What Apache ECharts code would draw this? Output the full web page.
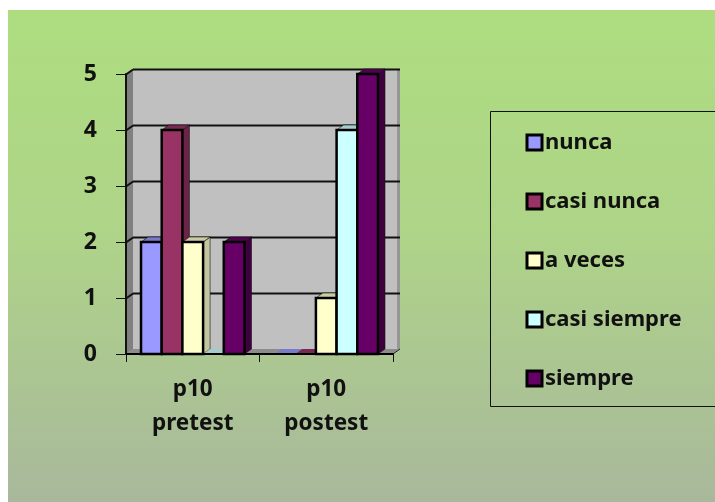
<!DOCTYPE html>
<html><head><meta charset="utf-8">
<style>html,body{margin:0;padding:0;background:#fff}#c{width:715px;height:502px}</style>
<script src="https://cdn.jsdelivr.net/npm/echarts@6/dist/echarts.min.js"></script>
</head><body><div id="c"></div>
<script>
const categories = ['p10\npretest', 'p10\npostest'];
const yTicks = [0, 1, 2, 3, 4, 5];
const seriesNames = ['nunca', 'casi nunca', 'a veces', 'casi siempre', 'siempre'];
const nunca = [2, 0];
const casiNunca = [4, 0];
const aVeces = [2, 1];
const casiSiempre = [0, 4];
const siempre = [2, 5];
const allValues = [nunca, casiNunca, aVeces, casiSiempre, siempre];
const frontColors = ['#9999ff', '#993366', '#ffffcc', '#ccffff', '#660066'];
const topColors = ['#7a7acc', '#7a2952', '#ccccA3', '#a3cccc', '#520052'];
const sideColors = ['#6b6bb3', '#6b2447', '#c4c4a0', '#8fb3b3', '#3f003f'];

const DX = 7, DY = -5;
const chart = echarts.init(document.getElementById('c'), null, {renderer: 'canvas'});

function wallItem(params, api) {
  const cs = params.coordSys;
  const x0 = cs.x, x1 = cs.x + cs.width, y0 = cs.y + cs.height;
  const y = api.coord([0, api.value(0)])[1] + 0.5;
  const kids = [];
  if (api.value(0) === 0) {
    const topY = cs.y;
    kids.push({type: 'polygon', shape: {points: [[x0 + DX, topY + DY], [x1 + DX, topY + DY], [x1 + DX, y0 + DY], [x0 + DX, y0 + DY]]}, style: {fill: '#c0c0c0'}});
    kids.push({type: 'polygon', shape: {points: [[x0, topY], [x0 + DX, topY + DY], [x0 + DX, y0 + DY], [x0, y0]]}, style: {fill: '#808080'}});
    kids.push({type: 'polygon', shape: {points: [[x0, y0], [x1, y0], [x1 + DX, y0 + DY], [x0 + DX, y0 + DY]]}, style: {fill: '#8c8c8c'}});
    kids.push({type: 'polygon', shape: {points: [[x1 + DX - 3, topY + DY], [x1 + DX, topY + DY], [x1 + DX, y0 + DY], [x1 + DX - 3, y0 + DY + 2]]}, style: {fill: '#969696'}});
    kids.push({type: 'line', shape: {x1: x1, y1: y0, x2: x1 + DX, y2: y0 + DY}, style: {stroke: '#222', lineWidth: 1}});
  } else {
    kids.push({type: 'line', shape: {x1: x0, y1: y, x2: x0 + DX, y2: y + DY}, style: {stroke: '#111', lineWidth: 2}});
    kids.push({type: 'line', shape: {x1: x0 + DX, y1: y + DY, x2: x1 + DX, y2: y + DY}, style: {stroke: '#111', lineWidth: 2}});
  }
  return {type: 'group', children: kids};
}

function barItem(k) {
  return function (params, api) {
    const band = api.size([1, 0])[0];
    const w = band * 0.155;
    const base = api.coord([api.value(0), 0]);
    const top = api.coord([api.value(0), api.value(1)]);
    const xl = base[0] + (k - 2.5) * w, xr = xl + w;
    const yb = base[1], yt = top[1];
    const line = {stroke: '#000', lineWidth: 2.5, lineJoin: 'miter'};
    const thin = {stroke: '#111', lineWidth: 0.6};
    const kids = [];
    if (api.value(1) > 0) {
      kids.push({type: 'polygon', shape: {points: [[xr, yt], [xr + DX, yt + DY], [xr + DX, yb + DY], [xr, yb]]}, style: Object.assign({fill: sideColors[k]}, thin)});
      kids.push({type: 'polygon', shape: {points: [[xl, yt], [xl + DX, yt + DY], [xr + DX, yt + DY], [xr, yt]]}, style: Object.assign({fill: topColors[k]}, thin)});
      kids.push({type: 'rect', shape: {x: xl, y: yt, width: w, height: yb - yt}, style: Object.assign({fill: frontColors[k]}, line)});
    } else {
      kids.push({type: 'polygon', shape: {points: [[xl, yb], [xl + DX, yb + DY], [xr + DX, yb + DY], [xr, yb]]}, style: {fill: topColors[k]}});
    }
    return {type: 'group', children: kids};
  };
}

const series = [{
  type: 'custom', name: '_wall', silent: true, z: 1, clip: false,
  coordinateSystem: 'cartesian2d', renderItem: wallItem,
  encode: {y: 0}, data: yTicks.map(v => [v])
}];
seriesNames.forEach((name, k) => {
  series.push({
    type: 'custom', name, z: 2 + k, clip: false, coordinateSystem: 'cartesian2d',
    itemStyle: {color: frontColors[k]},
    renderItem: barItem(k), encode: {x: 0, y: 1},
    data: allValues[k].map((v, i) => [i, v])
  });
});

const font = '"Noto Sans", sans-serif';
chart.setOption({
  animation: false,
  graphic: [{type: 'rect', z: -10, shape: {x: 8, y: 10, width: 707, height: 492}, style: {
    fill: new echarts.graphic.LinearGradient(0, 0, 0, 1, [{offset: 0, color: '#aedd80'}, {offset: 0.45, color: '#aed488'}, {offset: 1, color: '#a9b89c'}])
  }}],
  grid: {left: 126, top: 74, width: 267, height: 280},
  xAxis: {
    type: 'category', data: categories, z: 10,
    axisLine: {lineStyle: {color: '#000', width: 2}},
    axisTick: {show: true, length: 8, lineStyle: {color: '#111', width: 1}},
    axisLabel: {margin: 19, color: '#111', fontFamily: font, fontWeight: 700, fontSize: 22.5, lineHeight: 34}
  },
  yAxis: {
    type: 'value', min: 0, max: 5, interval: 1, z: 10,
    axisLine: {show: true, lineStyle: {color: '#111', width: 2}},
    axisTick: {show: true, length: 10, lineStyle: {color: '#111', width: 1}},
    splitLine: {show: false},
    axisLabel: {margin: 29, color: '#111', fontFamily: font, fontWeight: 700, fontSize: 23}
  },
  legend: {
    orient: 'vertical', left: 490.5, top: 111.5,
    data: seriesNames, icon: 'rect', selectedMode: false,
    itemWidth: 15, itemHeight: 15, itemGap: 37,
    padding: [20, 80, 17, 35],
    borderColor: '#111', borderWidth: 1,
    itemStyle: {borderColor: '#000', borderWidth: 3},
    textStyle: {color: '#111', fontFamily: font, fontWeight: 700, fontSize: 22, padding: [0, 0, 0, -2]}
  },
  series
});
</script></body></html>
